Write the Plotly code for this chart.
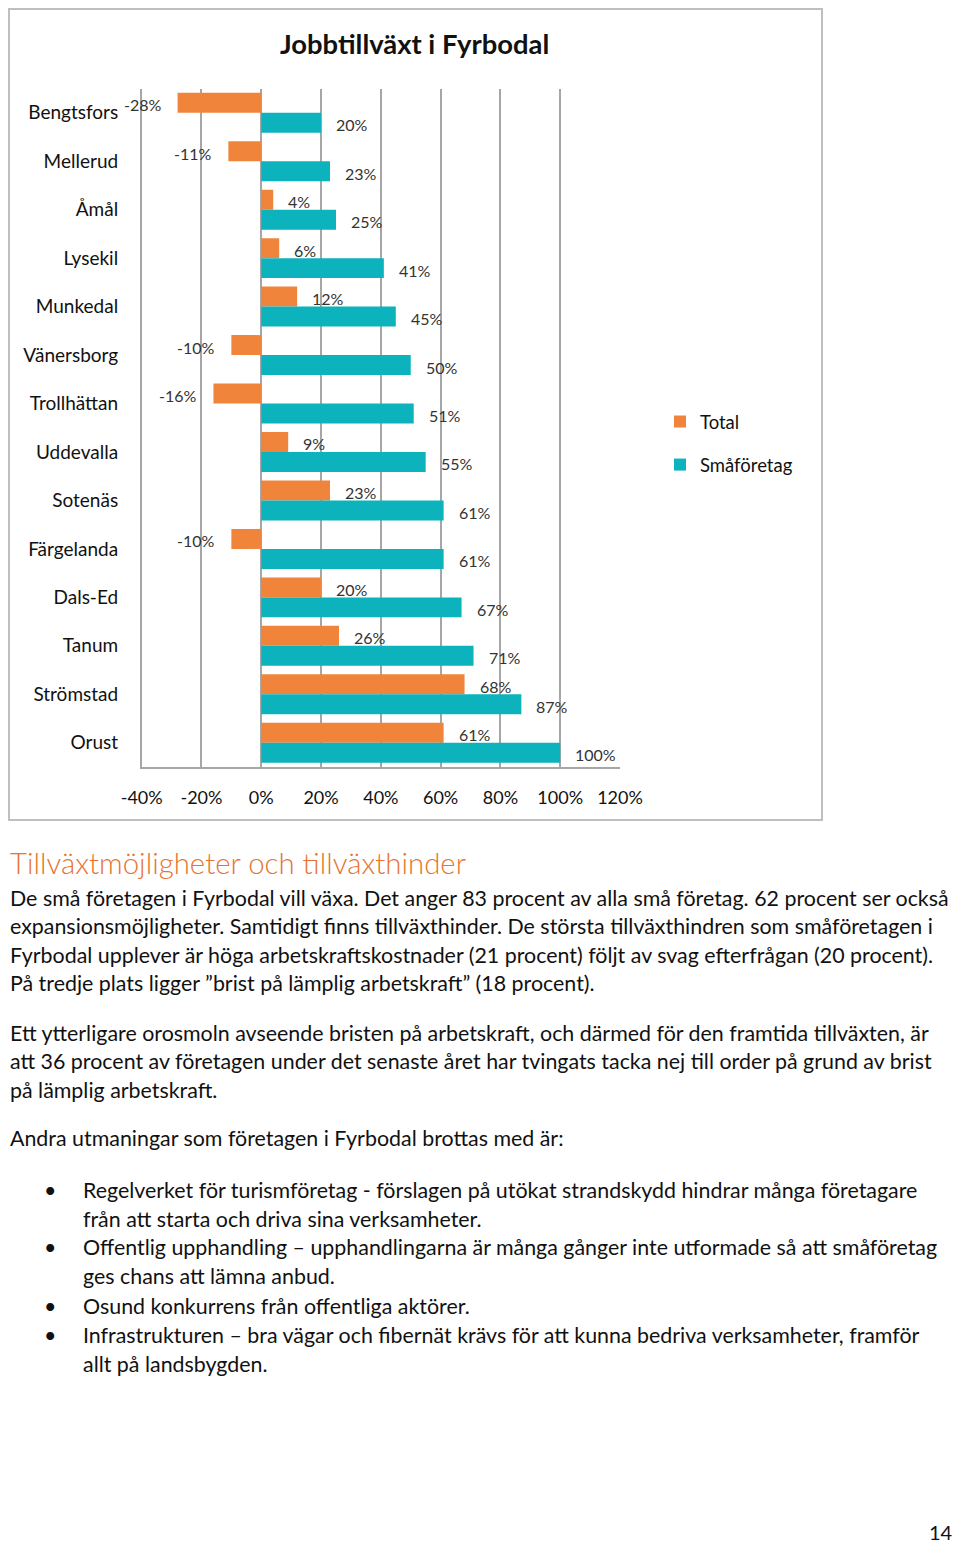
import plotly.graph_objects as go

categories = ["Bengtsfors", "Mellerud", "Åmål", "Lysekil", "Munkedal", "Vänersborg",
              "Trollhättan", "Uddevalla", "Sotenäs", "Färgelanda", "Dals-Ed", "Tanum",
              "Strömstad", "Orust"]
total = [-28, -11, 4, 6, 12, -10, -16, 9, 23, -10, 20, 26, 68, 61]
smaforetag = [20, 23, 25, 41, 45, 50, 51, 55, 61, 61, 67, 71, 87, 100]
tick_vals = [-40, -20, 0, 20, 40, 60, 80, 100, 120]
tick_text = [f"{v}%" for v in tick_vals]

title = "Jobbtillväxt i Fyrbodal"
heading = "Tillväxtmöjligheter och tillväxthinder"
para1 = [
    "De små företagen i Fyrbodal vill växa. Det anger 83 procent av alla små företag. 62 procent ser också",
    "expansionsmöjligheter. Samtidigt finns tillväxthinder. De största tillväxthindren som småföretagen i",
    "Fyrbodal upplever är höga arbetskraftskostnader (21 procent) följt av svag efterfrågan (20 procent).",
    "På tredje plats ligger ”brist på lämplig arbetskraft” (18 procent).",
]
para2 = [
    "Ett ytterligare orosmoln avseende bristen på arbetskraft, och därmed för den framtida tillväxten, är",
    "att 36 procent av företagen under det senaste året har tvingats tacka nej till order på grund av brist",
    "på lämplig arbetskraft.",
]
para3 = ["Andra utmaningar som företagen i Fyrbodal brottas med är:"]
bullets = [
    ["Regelverket för turismföretag - förslagen på utökat strandskydd hindrar många företagare",
     "från att starta och driva sina verksamheter."],
    ["Offentlig upphandling – upphandlingarna är många gånger inte utformade så att småföretag",
     "ges chans att lämna anbud."],
    ["Osund konkurrens från offentliga aktörer."],
    ["Infrastrukturen – bra vägar och fibernät krävs för att kunna bedriva verksamheter, framför",
     "allt på landsbygden."],
]
page_number = "14"

# page body has an 8px margin: figure is offset by 8px in the window
OFF = 8
W, H = 952, 1539
ORANGE = "#F0843A"
TEAL = "#0DB3BC"
GRID = "#A6A6A6"
FONT = "Lato"
TXT = "#111111"
BODY_SIZE = 21.4


def X(x):
    return max(x - OFF, 0) / W


def Y(y):
    return 1 - max(y - OFF, 0) / H


fig = go.Figure()
fig.add_trace(go.Bar(name="Total", y=categories, x=total, orientation="h",
                     marker=dict(color=ORANGE, line=dict(width=0)), legendgroup="a"))
fig.add_trace(go.Bar(name="Småföretag", y=categories, x=smaforetag, orientation="h",
                     marker=dict(color=TEAL, line=dict(width=0)), legendgroup="b"))

ann = []
# data labels
for series, ysh in ((total, 8), (smaforetag, -12)):
    for c, v in zip(categories, series):
        ann.append(dict(x=v, y=c, xref="x", yref="y", text=f"{v}%", showarrow=False,
                        xanchor="left" if v >= 0 else "right",
                        xshift=13 if v >= 0 else -14, yshift=ysh,
                        font=dict(family=FONT, size=16, color="#333333")))

ann.append(dict(x=X(414), y=Y(43), xref="paper", yref="paper", text=f"<b>{title}</b>",
                showarrow=False, xanchor="center", yanchor="middle",
                font=dict(family=FONT, size=27.4, color=TXT)))

ann.append(dict(x=X(6), y=Y(862), xref="paper", yref="paper", text=heading, showarrow=False,
                xanchor="left", yanchor="middle",
                font=dict(family=FONT, size=29.4, color="#E8732F", weight=300)))


def line(text, x, y):
    ann.append(dict(x=X(x), y=Y(y), xref="paper", yref="paper", text=text, showarrow=False,
                    xanchor="left", yanchor="middle",
                    font=dict(family=FONT, size=BODY_SIZE, color=TXT)))


for i, t in enumerate(para1):
    line(t, 7, 898 + i * 28.3)
for i, t in enumerate(para2):
    line(t, 7, 1033 + i * 28.3)
line(para3[0], 7, 1138)
by = [1190, 1247, 1306, 1335]
for b, y0 in zip(bullets, by):
    line("•", 42, y0)
    for j, t in enumerate(b):
        line(t, 81, y0 + j * 28.5)

ann.append(dict(x=X(955), y=Y(1532), xref="paper", yref="paper", text=page_number,
                showarrow=False, xanchor="right", yanchor="middle",
                font=dict(family=FONT, size=20, color=TXT)))

fig.update_layout(
    width=W, height=H, margin=dict(l=0, r=0, t=0, b=0, autoexpand=False),
    paper_bgcolor="white", plot_bgcolor="white",
    barmode="group", bargap=0.175, bargroupgap=0,
    showlegend=True,
    legend=dict(x=X(660), y=Y(403), xanchor="left", yanchor="top",
                font=dict(family=FONT, size=18.5, color=TXT),
                tracegroupgap=16, traceorder="grouped", bgcolor="rgba(0,0,0,0)"),
    annotations=ann,
    shapes=[dict(type="rect", xref="paper", yref="paper", x0=X(9), x1=X(822), y0=Y(820), y1=Y(9),
                 line=dict(color="#BFBFBF", width=2), fillcolor="rgba(0,0,0,0)", layer="below")],
    xaxis=dict(domain=[X(141.7), X(620)], range=[-40, 120], tickvals=tick_vals, ticktext=tick_text,
               automargin=False,
               showgrid=True, gridcolor=GRID, gridwidth=1.5, zeroline=True, zerolinecolor=GRID,
               zerolinewidth=1.5, showline=True, linecolor=GRID, linewidth=1.5,
               ticks="", ticklabelstandoff=14,
               tickfont=dict(family=FONT, size=18, color=TXT), fixedrange=True),
    yaxis=dict(domain=[Y(767), Y(88.5)], type="category", autorange="reversed", automargin=False,
               showgrid=False, showline=True, linecolor=GRID, linewidth=1.5, ticks="",
               ticklabelstandoff=18, tickfont=dict(family=FONT, size=19, color=TXT)),
)

fig.write_html("out.html")
